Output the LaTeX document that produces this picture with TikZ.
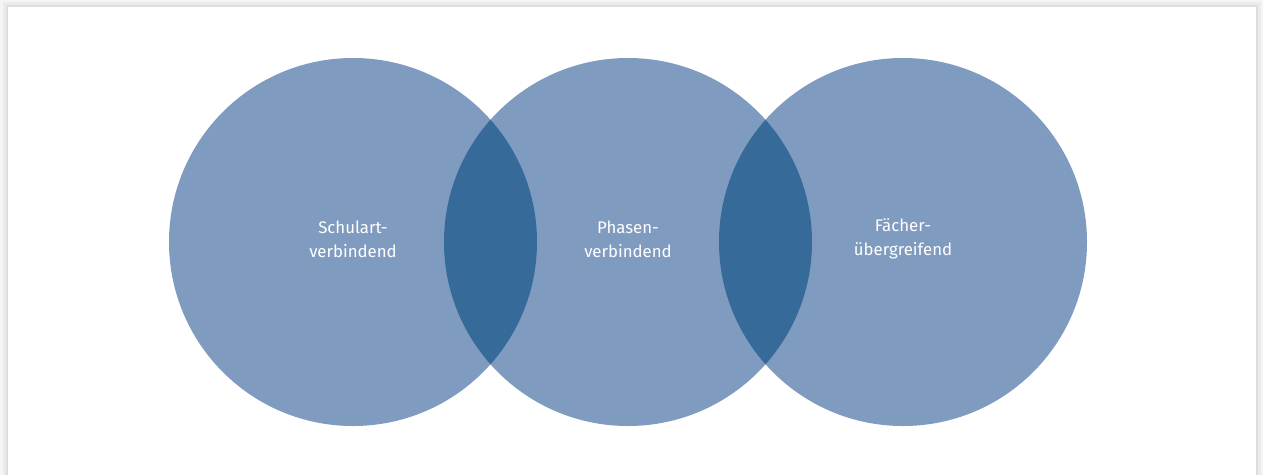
\documentclass[tikz,border=0pt]{standalone}
\usepackage{fontspec}
\setmainfont{Fira Sans}

\definecolor{ringblue}{RGB}{128,155,192}
\definecolor{cutblue}{RGB}{54,106,153}

\tikzset{
  ring/.style={circle, fill=ringblue, minimum size=368pt, inner sep=0pt},
  ringtext/.style={text=white, align=center, font=\fontsize{16.8}{24}\selectfont}
}

\begin{document}
\begin{tikzpicture}[x=1pt, y=-1pt]

\useasboundingbox (0,0) rectangle (1263,475);

% card with soft shadow
\fill[black!4] (0,0) rectangle (1263,475);
\fill[black!8] (3,2) rectangle (1261,475);
\fill[black!13] (6,5) rectangle (1258,475);
\fill[white] (8,7) rectangle (1256,475);

\node[ring] (schul) at (353,242) {};
\node[ring] (phasen) at (628,242) {};
\node[ring] (faecher) at (903,242) {};

% overlaps
\begin{scope}
\clip (353,242) circle (184);
\fill[cutblue] (628,242) circle (184);
\end{scope}
\begin{scope}
\clip (628,242) circle (184);
\fill[cutblue] (903,242) circle (184);
\end{scope}

\node[ringtext] at ([yshift=3pt]schul.center) {Schulart-\\verbindend};
\node[ringtext] at ([yshift=3pt]phasen.center) {Phasen-\\verbindend};
\node[ringtext] at ([yshift=3pt]faecher.center) {Fächer-\\übergreifend};

\end{tikzpicture}
\end{document}
